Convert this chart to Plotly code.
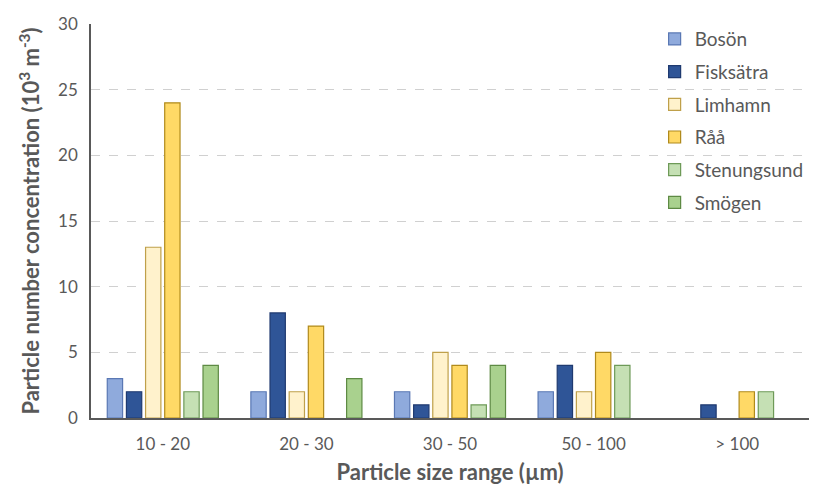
import plotly.graph_objects as go

categories = ["10 - 20", "20 - 30", "30 - 50", "50 - 100", "> 100"]
sites = ["Bosön", "Fisksätra", "Limhamn", "Råå", "Stenungsund", "Smögen"]
bosson = [3, 2, 2, 2, 0]
fisksatra = [2, 8, 1, 4, 1]
limhamn = [13, 2, 5, 2, 0]
raa = [24, 7, 4, 5, 2]
stenungsund = [2, 0, 1, 4, 2]
smogen = [4, 3, 4, 0, 0]
values = [bosson, fisksatra, limhamn, raa, stenungsund, smogen]

fills = ["#8FAADC", "#2F5597", "#FFF2CC", "#FFD966", "#C5E0B4", "#A9D18E"]
borders = ["#5A78B4", "#1F3A70", "#BFA04A", "#B08A1C", "#6E9A58", "#5E8A44"]

fig = go.Figure()
for i, (name, vals) in enumerate(zip(sites, values)):
    fig.add_trace(go.Bar(
        x=categories, y=vals, name=name,
        marker=dict(color=fills[i],
                    line=dict(color=borders[i], width=[1.2 if v else 0 for v in vals])),
        legendgroup=name,
    ))

font_family = "Lato, Open Sans, sans-serif"
fig.update_layout(
    width=817, height=485,
    margin=dict(l=91, r=8, t=24, b=67),
    paper_bgcolor="white", plot_bgcolor="white",
    barmode="group", bargap=0.2, bargroupgap=0.2,
    font=dict(family=font_family, color="#595959"),
    showlegend=True,
    legend=dict(x=0.785, y=1.01, xanchor="left", yanchor="top",
                font=dict(size=19, color="#595959"),
                traceorder="grouped", tracegroupgap=5,
                itemwidth=30,
                bgcolor="rgba(0,0,0,0)"),
    xaxis=dict(
        automargin=False,
        showline=True, linecolor="#595959", linewidth=1.5,
        tickfont=dict(size=17, color="#595959"),
        ticks="", ticklabelstandoff=10,
        title=dict(text="<b>Particle size range (µm)</b>", font=dict(size=22, color="#595959"), standoff=12),
    ),
    yaxis=dict(
        automargin=False,
        range=[0, 30], dtick=5,
        showline=True, linecolor="#595959", linewidth=1.5,
        showgrid=True, gridcolor="#D0D0D0", griddash="dash", gridwidth=1,
        zeroline=False,
        tickfont=dict(size=17, color="#595959"),
        ticks="", ticklen=0, ticklabelstandoff=8,
        title=dict(text="<b>Particle number concentration (10<sup>3</sup> m<sup>-3</sup>)</b>",
                   font=dict(size=22, color="#595959"), standoff=12),
    ),
)

fig.write_html("out.html")
